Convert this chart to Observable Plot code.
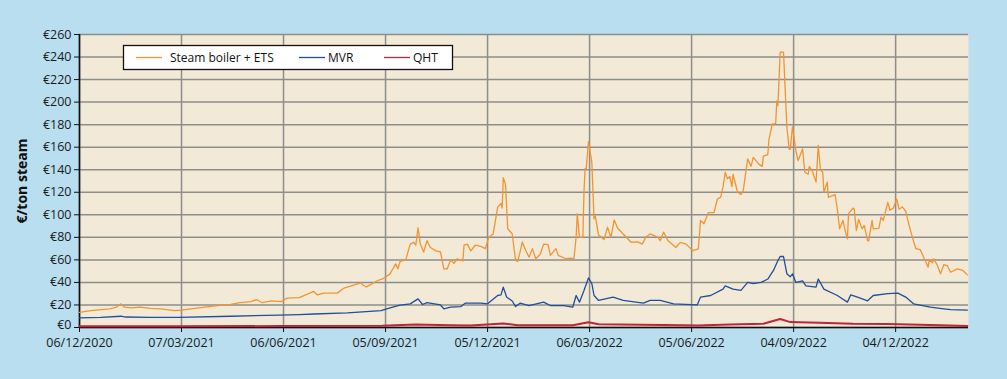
<!DOCTYPE html>
<html>
<head>
<meta charset="utf-8">
<script src="https://cdn.jsdelivr.net/npm/d3@7"></script>
<script src="https://cdn.jsdelivr.net/npm/@observablehq/plot@0.6"></script>
<style>
  html, body { margin: 0; padding: 0; background: #b9def0; }
  #chart { width: 1007px; height: 379px; }
</style>
</head>
<body>
<div id="chart"></div>
<script>
// Days counted from 06/12/2020
const startDate = "2020-12-06";
const totalDays = 793;

const seriesNames = ["Steam boiler + ETS", "MVR", "QHT"];
const seriesColors = ["#f39432", "#1f4f9e", "#c4213a"];

const steamDays = [0,10,27,33,37,40,46,54,63,72,85,91,103,119,135,143,153,158,163,171,180,185,196,209,212,218,230,236,251,253,256,266,271,277,282,284,286,291,295,298,300,302,304,307,310,313,318,322,325,328,331,334,337,342,343,346,349,353,358,362,365,369,373,376,377,378,380,382,386,389,391,395,398,401,404,407,411,414,418,420,425,427,434,438,441,443,444,446,449,450,451,452,454,457,459,460,463,468,471,474,477,480,485,492,498,502,505,509,516,518,521,525,532,536,541,547,552,554,557,561,566,569,572,574,576,578,580,582,583,587,590,592,596,599,601,606,609,610,614,615,618,621,622,623,625,628,631,633,634,636,639,641,645,647,650,651,654,657,659,661,663,664,667,668,672,674,676,678,681,683,685,686,690,691,693,695,698,700,701,703,704,707,708,713,715,717,721,723,726,729,731,734,737,740,743,746,750,753,757,758,761,762,765,768,771,774,777,783,788,792];
const steamValues = [13.5,15,16.6,18,21,18,17.5,18,17,16.5,15,15.5,17,19,20.5,22,23,24.8,22,23.6,23,26,26.5,32,29,30.5,30.5,35,39.6,37.5,36,41.7,43.4,47.6,56.5,52,58.6,60,74,75.7,73,88.5,74,67,77,71,68,67,52,52,60,57,61,59,73,74,68,73,72,70,80,83,106.8,110,106,133,127,87.6,83,59.5,58.6,75.7,68.5,62.4,70,61,65,74,73.5,64,70,64,61,61.5,61,80,101,80,80,120,141,141,165,146.7,96.4,99,82,78,89,80,95.5,88,83,75.7,76,74,80,83,80,77,84.6,77,71,75.5,74,68.3,69.8,95,92,102,102,114,115.7,124.5,137.8,132,134,125,136,120,118,121,149.7,143,151,145,143,152,153.5,167,180.7,181,201,197,244.3,244.3,177.7,158.5,158,178,157,148,158.5,137.8,136,143,138,129,161.5,139.6,138,120,129,115.6,117,118,105,87.6,95,86,78.7,101,106,105,86,96,87.6,90.5,86,77,77,95,87.6,88,98,95,111,104,106,114,105,107,103,90.5,80,70,69,62.4,53.5,60,57.5,61,55.7,47.6,55.7,55,49,52,50.6,46.7];

const mvrDays = [0,19,37,41,63,89,135,178,196,209,239,269,277,286,295,302,306,310,322,325,331,340,344,358,364,373,376,378,381,386,389,393,401,414,420,432,440,443,446,450,454,457,459,463,476,485,503,509,518,530,551,554,563,574,576,583,590,596,601,608,614,619,623,625,628,631,634,636,639,645,648,657,659,664,676,685,688,694,703,708,721,730,737,744,759,771,777,792];
const mvrValues = [8.6,9,10,9.3,9,9,10,11,11.5,12,13,15,17.4,19.8,21,25.4,20.4,22,20,16.6,18,18.5,21.6,21.6,21,28.4,29,35.8,27,23.5,18.6,21.6,19.5,22.5,19.5,19.5,18,28.4,22.5,32.8,44,39,28.4,24,27,24,21.6,24,24,21,20,27,28.4,34,37,34,33,40,39,40,43,50.6,59.5,63,63,47.6,45,47.6,40,41.4,37,35.8,43,34,28.4,22.5,29,27,23.7,28.4,30,30.5,27,21,18,16.6,15.9,15.5];

const qhtDays = [0,90,180,270,300,330,349,378,391,440,454,463,520,552,580,610,625,634,660,690,720,750,792];
const qhtValues = [1.0,1.0,1.3,1.6,2.6,2.0,1.8,3.5,2.0,2.0,4.7,2.8,2.2,1.8,2.6,3.3,7.6,4.8,4.3,3.4,3.2,2.5,1.4];

const yTicks = [0,20,40,60,80,100,120,140,160,180,200,220,240,260];
const xTickLabels = ["06/12/2020","07/03/2021","06/06/2021","05/09/2021","05/12/2021","06/03/2022","05/06/2022","04/09/2022","04/12/2022"];

const start = d3.utcParse("%Y-%m-%d")(startDate);
const end = d3.utcDay.offset(start, totalDays);
const parseTick = d3.utcParse("%d/%m/%Y");
const xTicks = xTickLabels.map(parseTick);

function rows(days, values, name) {
  return days.map((d, i) => ({date: d3.utcDay.offset(start, d), value: values[i], series: name}));
}
const steam = rows(steamDays, steamValues, seriesNames[0]);
const mvr = rows(mvrDays, mvrValues, seriesNames[1]);
const qht = rows(qhtDays, qhtValues, seriesNames[2]);

const gridColor = "#8d8d8d";
const euro = d => "€" + d;

const chart = Plot.plot({
  width: 1007,
  height: 379,
  marginLeft: 79,
  marginRight: 39,
  marginTop: 34,
  marginBottom: 52,
  style: {background: "transparent", fontFamily: "'Open Sans', sans-serif", fontSize: "12.5px", color: "#1a1a1a"},
  x: {type: "utc", domain: [start, end]},
  y: {domain: [0, 260]},
  marks: [
    Plot.frame({fill: "#f2ead6", stroke: null}),
    Plot.gridY(yTicks, {stroke: gridColor, strokeOpacity: 1, strokeWidth: 1.5}),
    Plot.gridX(xTicks, {stroke: gridColor, strokeOpacity: 1, strokeWidth: 1.5}),
    Plot.axisY(yTicks, {tickFormat: d => d === 0 ? "" : euro(d), tickSize: 5, tickPadding: 3, label: null, stroke: "#111", fill: "#1a1a1a", fontSize: 12.5}),
    Plot.axisY([yTicks[0]], {tickFormat: euro, tickSize: 0, tickPadding: 8, dy: -2.5, label: null, fill: "#1a1a1a", fontSize: 12.5}),
    Plot.axisX(xTicks, {tickFormat: d3.utcFormat("%d/%m/%Y"), tickSize: 5, tickPadding: 6, label: null, stroke: "#111", fill: "#1a1a1a", fontSize: 12.5}),
    Plot.ruleX([start], {stroke: "#111", strokeWidth: 1.6}),
    Plot.ruleY([0], {stroke: "#111", strokeWidth: 1.6}),
    Plot.line(qht, {x: "date", y: "value", stroke: seriesColors[2], strokeWidth: 2}),
    Plot.line(mvr, {x: "date", y: "value", stroke: seriesColors[1], strokeWidth: 1.3}),
    Plot.line(steam, {x: "date", y: "value", stroke: seriesColors[0], strokeWidth: 1.3})
  ]
});

document.getElementById("chart").appendChild(chart);

// Legend box and y-axis title
const svg = d3.select(chart);
const lg = svg.append("g")
  .attr("font-family", "'Open Sans', sans-serif")
  .attr("font-size", 12)
  .attr("text-anchor", "start");
lg.append("rect").attr("x", 123.5).attr("y", 45.5).attr("width", 329).attr("height", 24)
  .attr("fill", "#fff").attr("stroke", "#111").attr("stroke-width", 1.3);
const entries = [
  {lx: 136, tx: 170},
  {lx: 299, tx: 328},
  {lx: 384, tx: 413}
];
entries.forEach((e, i) => {
  lg.append("line").attr("x1", e.lx).attr("x2", e.lx + 26).attr("y1", 57.5).attr("y2", 57.5)
    .attr("stroke", seriesColors[i]).attr("stroke-width", 1.3);
  lg.append("text").attr("x", e.tx).attr("y", 57.5).attr("dy", "0.35em")
    .attr("text-anchor", "start").attr("fill", "#111").text(seriesNames[i]);
});
svg.append("text")
  .attr("transform", "translate(27,181) rotate(-90)")
  .attr("text-anchor", "middle")
  .attr("font-family", "'Open Sans', sans-serif")
  .attr("font-weight", "bold")
  .attr("font-size", 14)
  .attr("fill", "#111")
  .text("€/ton steam");
</script>
</body>
</html>
